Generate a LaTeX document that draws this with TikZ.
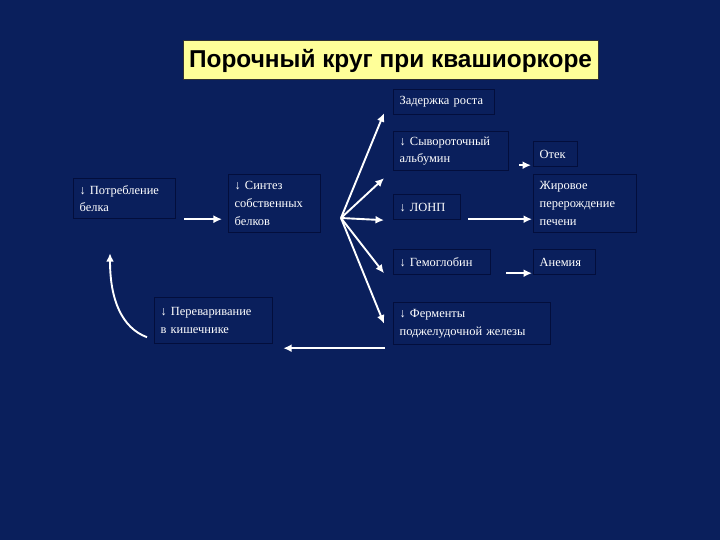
\documentclass[tikz,border=0pt]{standalone}
\usepackage{fontspec}
\setmainfont{Liberation Serif}
\newfontfamily\titlefont{Liberation Sans}
\usetikzlibrary{arrows.meta,positioning}
\definecolor{Navy}{HTML}{0A1F5C}
\definecolor{Edge}{HTML}{030E3C}
\definecolor{Banner}{HTML}{FFFF99}
\tikzset{
  cell/.style={draw=Edge,line width=1.2bp,fill=Navy,anchor=north west,align=left,
    inner xsep=6bp,inner ysep=2bp,text=white,font=\fontsize{12.5}{18}\selectfont},
  banner/.style={draw=black!80,line width=1bp,fill=Banner,minimum width=415bp,
    minimum height=39bp,font=\titlefont\bfseries\fontsize{24.5}{28}\selectfont},
  link/.style={-{Latex[length=3mm,width=2.8mm]},line width=1.9bp,draw=white}
}

\begin{document}
\begin{tikzpicture}[x=1bp,y=-1bp]
  \fill[Navy] (0,0) rectangle (720,540);
  \useasboundingbox (0,0) rectangle (720,540);
  \node[banner] (title) at (390.5,60.5) {Порочный круг при квашиоркоре};
  % left part of the circle
  \node[cell, minimum width=102bp, minimum height=40bp, text width=90bp] (intake) at (73,178) {↓ Потребление\\белка};
  \node[cell, minimum width=92bp, minimum height=58bp, text width=80bp] (synth) at (228,174) {↓ Синтез\\собственных\\белков};
  \node[cell, minimum width=118bp, minimum height=46bp, text width=106bp] (digest) at (154,297) {↓ Переваривание\\в кишечнике};
  % consequences
  \node[cell, minimum width=101bp, minimum height=25bp, text width=89bp] (delay) at (393,89) {Задержка роста};
  \node[cell, minimum width=115bp, minimum height=39bp, text width=103bp] (albumin) at (393,131) {↓ Сывороточный\\альбумин};
  \node[cell, minimum width=67bp, minimum height=25bp, text width=55bp] (vldl) at (393,194) {↓ ЛОНП};
  \node[cell, minimum width=97bp, minimum height=25bp, text width=85bp] (hemoglobin) at (393,249) {↓ Гемоглобин};
  \node[cell, minimum width=155bp, minimum height=42bp, text width=145bp] (enzymes) at (393,302) {↓ Ферменты\\поджелудочной железы};
  \node[cell, minimum width=44bp, minimum height=25bp, text width=32bp] (oedema) at (533,141) {Отек};
  \node[cell, minimum width=103bp, minimum height=58bp, text width=91bp] (liver) at (533,174) {Жировое\\перерождение\\печени};
  \node[cell, minimum width=62bp, minimum height=25bp, text width=50bp] (anemia) at (533,249) {Анемия};
  % arrows
  \coordinate (hub) at (341,218);
  \draw[link] ([xshift=8bp]intake.south east) -- ([xshift=-6bp]intake.south east -| synth.west);
  \draw[link] (hub) -- ([xshift=-9bp,yshift=2bp]delay.south west);
  \draw[link] (hub) -- ([xshift=-9bp,yshift=-7bp]albumin.south west);
  \draw[link] (hub) -- ([xshift=-9bp]vldl.south west);
  \draw[link] (hub) -- ([xshift=-9bp,yshift=2bp]hemoglobin.south west);
  \draw[link] (hub) -- ([xshift=-9bp]enzymes.west);
  \draw[link] ([xshift=10bp,yshift=6bp]albumin.south east) -- ([xshift=-2bp,yshift=6bp]albumin.south east -| oedema.west);
  \draw[link] ([xshift=7bp,yshift=1bp]vldl.south east) -- ([xshift=-1bp,yshift=1bp]vldl.south east -| liver.west);
  \draw[link] ([xshift=15bp,yshift=2bp]hemoglobin.south east) -- ([xshift=-1bp,yshift=2bp]hemoglobin.south east -| anemia.west);
  \draw[link] ([xshift=-8bp,yshift=-3bp]enzymes.south west) -- ([xshift=10bp,yshift=-3bp]enzymes.south west -| digest.east);
  \coordinate (loopstart) at ([xshift=-7bp,yshift=7bp]digest.south west);
  \coordinate (looptip) at ([xshift=37bp,yshift=-34bp]intake.south west);
  \draw[link] (loopstart) .. controls (122,328) and (110,300) .. (looptip);
\end{tikzpicture}
\end{document}
